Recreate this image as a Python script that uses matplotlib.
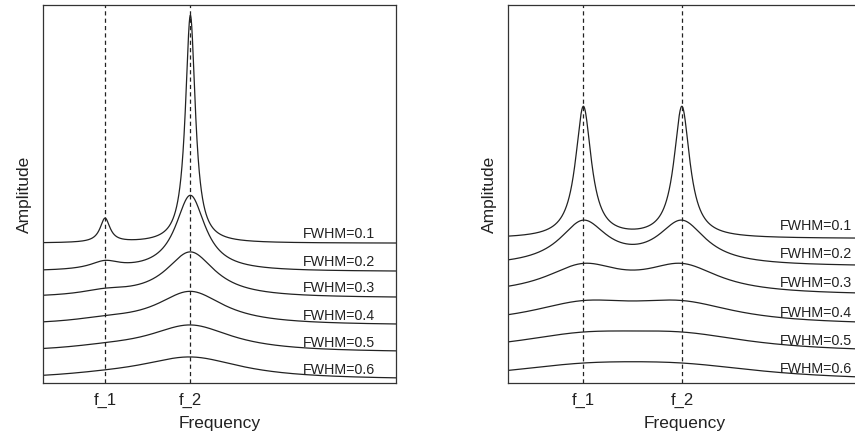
import numpy as np
import matplotlib
matplotlib.use("Agg")
import matplotlib.pyplot as plt

plt.rcParams['font.family'] = ['Liberation Sans', 'DejaVu Sans']
plt.rcParams['lines.scale_dashes'] = False

# ---------------- data ----------------
fwhm_labels = ['FWHM=0.1', 'FWHM=0.2', 'FWHM=0.3', 'FWHM=0.4', 'FWHM=0.5', 'FWHM=0.6']
tick_labels = ['f_1', 'f_2']

# left panel: weak peak at f_1, strong peak at f_2
left_peak_freqs = [0.706, 1.672]
left_peak_amps = [0.0432, 0.410]
left_widths = [0.068, 0.204, 0.340, 0.465, 0.578, 0.703]
left_offsets = [3.698, 2.947, 2.249, 1.526, 0.807, 0.085]

# right panel: two equal peaks
right_peak_freqs = [0.857, 1.972]
right_peak_amps = [0.3747, 0.3747]
right_widths = [0.108, 0.329, 0.521, 0.748, 0.963, 1.167]
right_offsets = [3.820, 3.079, 2.317, 1.526, 0.794, 0.040]

# ---------------- figure ----------------
W, H = 855, 437
fig = plt.figure(figsize=(W / 100, H / 100), dpi=100)

XMAX, YMAX = 4.0, 10.0
ink = '#222222'


def lorentz_sum(x, freqs, amps, g):
    y = np.zeros_like(x)
    for f, a in zip(freqs, amps):
        y += a * g / (g ** 2 + (x - f) ** 2)
    return y


def panel(rect, freqs, amps, widths, offsets, label_x, label_pad):
    ax = fig.add_axes(rect)
    x = np.linspace(0, XMAX, 3000)
    for g, off, lab in zip(widths, offsets, fwhm_labels):
        y = off + lorentz_sum(x, freqs, amps, g)
        ax.plot(x, y, color=ink, lw=0.9, solid_joinstyle='round')
        ax.text(label_x, off + label_pad, lab, fontsize=10.3, color=ink,
                ha='left', va='baseline')
    for f in freqs:
        ax.axvline(f, color=ink, lw=0.9, linestyle=(0, (3.0, 2.3)))
    ax.set_xlim(0, XMAX)
    ax.set_ylim(0, YMAX)
    ax.set_xticks(freqs)
    ax.set_xticklabels(tick_labels, fontsize=12, color=ink)
    ax.set_yticks([])
    ax.tick_params(axis='x', length=0, pad=7)
    ax.set_xlabel('Frequency', fontsize=12.5, color=ink, labelpad=6)
    ax.set_ylabel('Amplitude', fontsize=12.5, color=ink, labelpad=8)
    for s in ax.spines.values():
        s.set_color('#333333')
        s.set_linewidth(0.9)
    return ax


ax_w = 353.3 / W
ax_h = 378 / H
ax_y = (H - 383) / H

panel([42.7 / W, ax_y, ax_w, ax_h], left_peak_freqs, left_peak_amps,
      left_widths, left_offsets, 2.95, 0.15)
panel([507.7 / W, ax_y, ax_w, ax_h], right_peak_freqs, right_peak_amps,
      right_widths, right_offsets, 3.086, 0.22)

fig.savefig('out.png', dpi=100)
